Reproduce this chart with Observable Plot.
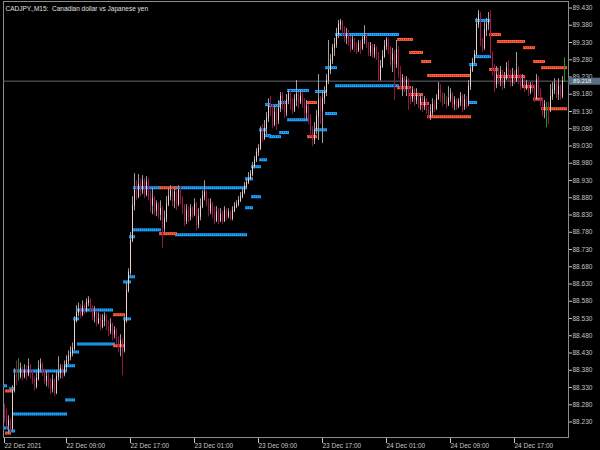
<!DOCTYPE html>
<html><head><meta charset="utf-8">
<script src="https://cdn.jsdelivr.net/npm/d3@7"></script>
<script src="https://cdn.jsdelivr.net/npm/@observablehq/plot@0.6"></script>
<style>
html,body{margin:0;padding:0;background:#000;}
#chart{width:600px;height:450px;overflow:hidden;}
</style></head><body><div id="chart"></div>
<script>
const symbolTitle = "CADJPY.,M15:  Canadian dollar vs Japanese yen";
const firstOpen = 88.262;
const lastPrice = 89.218;

const closes = [
88.239,88.219,88.233,88.210,88.320,88.364,88.361,88.361,88.384,88.361,
88.378,88.367,88.390,88.372,88.349,88.332,88.355,88.384,88.396,88.372,
88.349,88.361,88.338,88.326,88.349,88.314,88.361,88.372,88.384,88.367,
88.390,88.407,88.419,88.430,88.442,88.523,88.546,88.558,88.541,88.564,
88.552,88.575,88.581,88.558,88.535,88.546,88.517,88.529,88.506,88.523,
88.535,88.506,88.494,88.512,88.483,88.494,88.465,88.448,88.465,88.436,
88.523,88.610,88.663,88.755,88.857,88.900,88.883,88.918,88.900,88.929,
88.889,88.924,88.883,88.857,88.877,88.842,88.860,88.831,88.848,88.790,
88.819,88.860,88.883,88.900,88.871,88.895,88.860,88.900,88.877,88.854,
88.813,88.842,88.825,88.848,88.831,88.860,88.802,88.825,88.854,88.883,
88.895,88.866,88.842,88.860,88.831,88.813,88.837,88.813,88.831,88.813,
88.842,88.825,88.837,88.819,88.842,88.854,88.860,88.871,88.883,88.895,
88.912,88.924,88.935,88.947,88.970,88.988,89.011,89.022,89.075,89.051,
89.080,89.109,89.144,89.133,89.092,89.127,89.104,89.138,89.173,89.150,
89.127,89.162,89.179,89.150,89.133,89.162,89.179,89.156,89.173,89.150,
89.127,89.144,89.109,89.075,89.046,89.075,89.115,89.162,89.133,89.167,
89.185,89.220,89.249,89.278,89.313,89.324,89.353,89.382,89.388,89.365,
89.342,89.353,89.330,89.313,89.336,89.318,89.307,89.324,89.313,89.336,
89.347,89.324,89.301,89.318,89.295,89.313,89.289,89.220,89.260,89.289,
89.318,89.336,89.307,89.278,89.295,89.266,89.307,89.243,89.202,89.225,
89.196,89.220,89.185,89.167,89.191,89.162,89.179,89.150,89.167,89.144,
89.162,89.133,89.115,89.127,89.150,89.138,89.167,89.191,89.173,89.156,
89.156,89.150,89.167,89.179,89.150,89.162,89.144,89.156,89.173,89.144,
89.162,89.150,89.202,89.249,89.272,89.295,89.382,89.411,89.336,89.313,
89.365,89.382,89.394,89.301,89.249,89.208,89.237,89.220,89.243,89.208,
89.225,89.255,89.231,89.214,89.237,89.220,89.249,89.225,89.202,89.220,
89.196,89.208,89.185,89.202,89.196,89.167,89.220,89.191,89.156,89.133,
89.150,89.150,89.133,89.173,89.191,89.208,89.179,89.202,89.173,89.218,89.218];

const highs = [
88.282,88.268,88.248,88.239,88.335,88.384,88.407,88.413,88.401,88.390,
88.396,88.393,88.413,88.396,88.378,88.361,88.372,88.407,88.413,88.401,
88.384,88.378,88.372,88.355,88.367,88.355,88.378,88.419,88.396,88.396,
88.407,88.422,88.436,88.448,88.459,88.535,88.567,88.575,88.570,88.581,
88.573,88.587,88.593,88.587,88.567,88.564,88.552,88.546,88.541,88.541,
88.546,88.541,88.523,88.529,88.517,88.506,88.500,88.477,88.483,88.471,
88.535,88.633,88.674,88.779,88.883,88.950,88.929,88.947,88.935,88.944,
88.935,88.941,88.935,88.900,88.906,88.883,88.871,88.866,88.871,88.854,
88.842,88.883,88.906,88.915,88.906,88.912,88.900,88.915,88.912,88.883,
88.860,88.860,88.854,88.860,88.854,88.877,88.866,88.848,88.877,88.900,
88.929,88.900,88.877,88.877,88.866,88.854,88.854,88.848,88.848,88.842,
88.854,88.848,88.848,88.842,88.854,88.866,88.871,88.883,88.895,88.906,
88.924,88.935,88.953,88.959,88.982,88.999,89.022,89.034,89.086,89.092,
89.104,89.127,89.167,89.173,89.150,89.144,89.138,89.162,89.185,89.185,
89.162,89.179,89.191,89.191,89.167,89.179,89.220,89.185,89.191,89.185,
89.167,89.162,89.150,89.121,89.086,89.098,89.133,89.237,89.173,89.191,
89.202,89.237,89.336,89.295,89.324,89.342,89.371,89.394,89.397,89.394,
89.376,89.371,89.365,89.347,89.347,89.342,89.330,89.336,89.336,89.347,
89.379,89.353,89.330,89.330,89.324,89.324,89.318,89.301,89.278,89.307,
89.336,89.344,89.342,89.318,89.313,89.307,89.336,89.318,89.260,89.237,
89.231,89.231,89.225,89.196,89.202,89.196,89.196,89.185,89.179,89.173,
89.173,89.167,89.144,89.150,89.167,89.162,89.179,89.214,89.208,89.185,
89.182,89.173,89.202,89.196,89.185,89.173,89.167,89.167,89.185,89.179,
89.179,89.173,89.220,89.260,89.284,89.307,89.400,89.423,89.417,89.342,
89.388,89.400,89.417,89.423,89.301,89.266,89.260,89.255,89.260,89.249,
89.243,89.272,89.278,89.249,89.255,89.249,89.301,89.260,89.237,89.237,
89.225,89.220,89.214,89.214,89.220,89.208,89.237,89.231,89.196,89.167,
89.162,89.156,89.156,89.208,89.214,89.225,89.220,89.225,89.208,89.231,89.286];

const lows = [
88.227,88.210,88.195,88.198,88.204,88.314,88.335,88.349,88.355,88.349,
88.355,88.349,88.361,88.355,88.338,88.320,88.326,88.349,88.372,88.361,
88.338,88.332,88.326,88.309,88.314,88.303,88.309,88.349,88.355,88.355,
88.361,88.378,88.396,88.407,88.419,88.436,88.517,88.535,88.529,88.535,
88.541,88.546,88.564,88.546,88.523,88.517,88.506,88.512,88.494,88.500,
88.506,88.494,88.477,88.483,88.465,88.471,88.454,88.430,88.419,88.364,
88.430,88.517,88.604,88.655,88.750,88.842,88.871,88.877,88.883,88.889,
88.877,88.883,88.871,88.837,88.831,88.828,88.825,88.819,88.813,88.732,
88.779,88.808,88.854,88.871,88.854,88.848,88.842,88.854,88.860,88.831,
88.796,88.802,88.808,88.813,88.819,88.825,88.784,88.790,88.813,88.848,
88.871,88.854,88.825,88.831,88.819,88.802,88.808,88.802,88.808,88.802,
88.808,88.813,88.819,88.813,88.813,88.837,88.848,88.854,88.866,88.877,
88.889,88.906,88.918,88.929,88.941,88.964,88.982,88.999,89.017,89.040,
89.046,89.063,89.098,89.115,89.080,89.086,89.075,89.092,89.127,89.133,
89.109,89.115,89.150,89.133,89.121,89.127,89.144,89.138,89.150,89.138,
89.109,89.104,89.092,89.057,89.028,89.034,89.063,89.046,89.092,89.037,
89.150,89.173,89.208,89.237,89.266,89.289,89.313,89.342,89.365,89.347,
89.330,89.324,89.318,89.301,89.307,89.301,89.295,89.301,89.295,89.307,
89.324,89.313,89.289,89.289,89.284,89.284,89.278,89.214,89.220,89.255,
89.284,89.307,89.295,89.260,89.243,89.162,89.255,89.225,89.191,89.173,
89.185,89.173,89.133,89.150,89.156,89.144,89.150,89.138,89.133,89.127,
89.133,89.121,89.109,89.104,89.115,89.127,89.133,89.162,89.156,89.144,
89.150,89.138,89.144,89.156,89.138,89.133,89.133,89.138,89.144,89.127,
89.133,89.138,89.144,89.191,89.243,89.266,89.289,89.371,89.318,89.301,
89.307,89.347,89.365,89.289,89.231,89.185,89.196,89.208,89.202,89.191,
89.196,89.220,89.214,89.202,89.202,89.208,89.214,89.208,89.191,89.196,
89.185,89.191,89.173,89.179,89.185,89.156,89.162,89.173,89.144,89.115,
89.109,89.083,89.092,89.127,89.162,89.179,89.167,89.162,89.162,89.167,89.214];

// support / resistance level segments (bar index from, bar index to, price, kind)
const levelFrom  = [0,0,1,3,1,3,5,5,31,31,35,35,37,37,55,55,60,60,63,63,65,65,78,78,86,86,121,121,124,124,128,128,131,131,133,133,138,138,142,142,152,152,156,156,161,161,166,166,197,197,203,203,209,209,212,212,233,233,236,236,243,243,247,247,260,260,265,265,269,269];
const levelTo    = [1,2,4,5,3,5,31,31,35,35,37,37,54,55,60,60,63,63,65,65,78,78,86,86,121,121,124,124,128,128,131,131,133,133,138,138,141,142,152,152,156,156,161,161,166,166,197,197,204,203,209,209,213,212,233,233,236,236,243,243,248,247,260,260,265,265,270,269,281,281];
const levelPrice = [88.335,88.213,88.320,88.326,88.198,88.204,88.378,88.253,88.393,88.294,88.529,88.433,88.555,88.456,88.541,88.451,88.529,88.636,88.651,88.767,88.909,88.787,88.909,88.776,88.909,88.773,88.935,88.851,88.970,88.883,89.077,88.990,89.150,89.060,89.147,89.057,89.156,89.069,89.191,89.106,89.156,89.057,89.188,89.077,89.257,89.124,89.353,89.205,89.339,89.199,89.301,89.179,89.275,89.153,89.234,89.115,89.266,89.156,89.394,89.289,89.353,89.252,89.333,89.231,89.315,89.202,89.275,89.166,89.257,89.138];
const levelKind  = ["B","B","R","B","R","B","B","B","B","B","B","B","B","B","R","R","B","B","B","B","B","B","R","R","B","B","B","B","B","B","B","B","B","B","B","B","B","B","B","B","R","R","B","B","B","B","B","B","R","R","R","R","R","R","R","R","B","B","B","B","R","R","R","R","R","R","R","R","R","R"];

const priceTicks = [89.430,89.380,89.330,89.280,89.230,89.180,89.130,89.080,89.030,88.980,88.930,88.880,88.830,88.780,88.730,88.680,88.630,88.580,88.530,88.480,88.430,88.380,88.330,88.280,88.230];
const timeTickIndex = [0,31,63,95,127,159,191,223,255];
const timeTickLabels = ["22 Dec 2021","22 Dec 09:00","22 Dec 17:00","23 Dec 01:00","23 Dec 09:00","23 Dec 17:00","24 Dec 01:00","24 Dec 09:00","24 Dec 17:00"];

const bars = closes.map((c, i) => {
  const o = i === 0 ? firstOpen : closes[i - 1];
  return {i, o, c, h: Math.max(highs[i], o, c), l: Math.min(lows[i], o, c)};
});
const bull = bars.filter(d => d.c > d.o);
const bear = bars.filter(d => d.c < d.o);
const doji = bars.filter(d => d.c === d.o);

const levels = levelFrom.map((s, k) => ({s, e: levelTo[k], p: levelPrice[k], kind: levelKind[k]}));
const blueLv = levels.filter(d => d.kind === "B");
const redLv = levels.filter(d => d.kind === "R");

const BLUE = "#1ea4ff", RED = "#ff5c3a";
function levelMarks(data, color, dark) {
  return [
    Plot.ruleY(data, {x1: d => d.s - 0.5, x2: d => d.e + 0.5, y: "p", stroke: color, strokeWidth: 3}),
    Plot.ruleY(data, {x1: d => d.s - 0.5, x2: d => d.e + 0.5, y: "p", stroke: dark, strokeWidth: 1, strokeDasharray: "1,1"})
  ];
}

const chart = Plot.plot({
  width: 600, height: 450,
  marginLeft: 3, marginRight: 32, marginTop: 1, marginBottom: 13,
  style: {background: "#000", color: "#c4c4c4", fontFamily: "'Liberation Sans', Arial, sans-serif", fontSize: "6.5px"},
  x: {type: "linear", domain: [-0.5, 282], axis: "bottom", ticks: timeTickIndex, tickSize: 6, tickFormat: () => "", label: null},
  y: {type: "linear", domain: [88.230, 89.430], range: [421.5, 7.5], axis: "right", ticks: priceTicks, tickSize: 3, tickPadding: 1, tickFormat: d => d.toFixed(3), label: null},
  marks: [
    Plot.frame({stroke: "#8c8c8c"}),
    Plot.ruleY([lastPrice], {stroke: "#66666e"}),
    ...levelMarks(blueLv, BLUE, "#0b5fa0"),
    ...levelMarks(redLv, RED, "#a83418"),
    Plot.ruleX(bull, {x: "i", y1: "l", y2: "h", stroke: "#a89a9a", strokeWidth: 1}),
    Plot.ruleX(bear, {x: "i", y1: "l", y2: "h", stroke: "#8e1446", strokeWidth: 1}),
    Plot.ruleX(doji, {x: "i", y1: "l", y2: "h", stroke: "#1a9a1a", strokeWidth: 1}),
    Plot.ruleX(bull, {x: "i", y1: "o", y2: "c", stroke: "#efd0c7", strokeWidth: 1, strokeLinecap: "square"}),
    Plot.ruleX(bear, {x: "i", y1: "o", y2: "c", stroke: "#b0145a", strokeWidth: 1, strokeLinecap: "square"}),
    Plot.ruleY([lastPrice], {x1: 282, x2: 298.5, stroke: "#5b6f84", strokeWidth: 7}),
    Plot.text([lastPrice], {x: 284.3, y: d => d, text: d => d.toFixed(3), textAnchor: "start", fill: "#e6edf4", fontSize: 6}),
    Plot.text([symbolTitle], {text: d => d, frameAnchor: "top-left", dx: 2, dy: 5, textAnchor: "start", fill: "#e0e0e0"}),
    Plot.text(timeTickIndex, {x: d => d, text: (d, k) => timeTickLabels[k], frameAnchor: "bottom", dy: 10, dx: 0, textAnchor: "start", fill: "#c4c4c4"})
  ]
});
document.getElementById("chart").appendChild(chart);
</script>
</body></html>
